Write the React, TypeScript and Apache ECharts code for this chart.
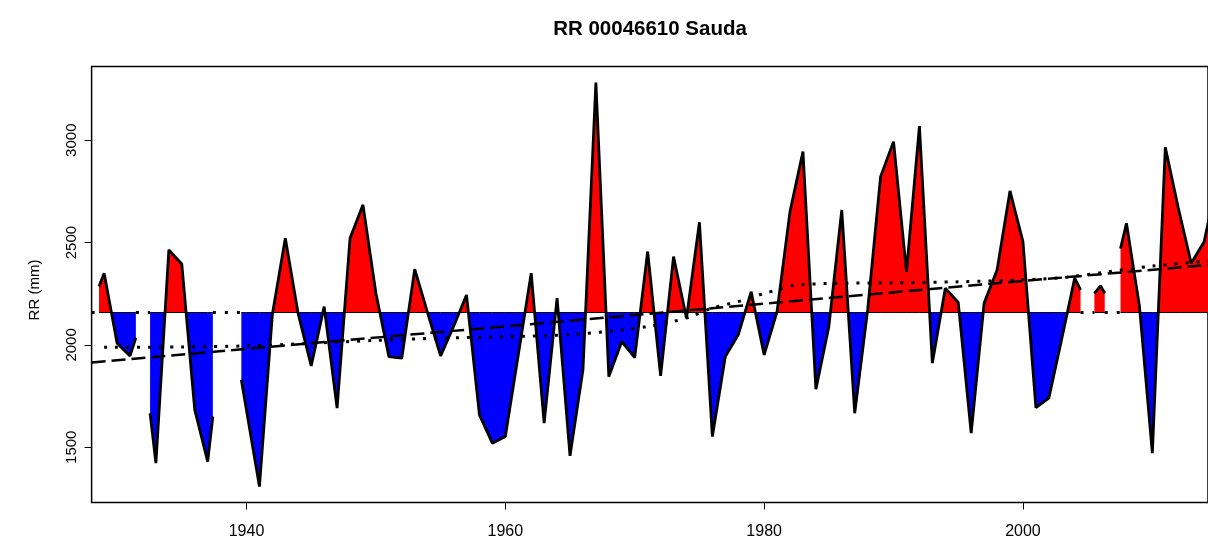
import React, { useEffect, useRef } from "react";
import * as echarts from "echarts";

const TITLE = "RR 00046610 Sauda";
const Y_NAME = "RR (mm)";
const BASE = 2158;
const FONT = "'Liberation Sans', Arial, sans-serif";

// annual precipitation; fractional years are the edges of the drawn segments next to missing years
const years = [
  1928.6, 1929, 1930, 1931, 1931.45, 1932, 1932.55, 1933, 1934, 1935, 1936, 1937, 1937.4, 1938,
  1939.6, 1940, 1941, 1942, 1943, 1944, 1945, 1946, 1947, 1948, 1949, 1950,
  1951, 1952, 1953, 1954, 1955, 1956, 1957, 1958, 1959, 1960,
  1961, 1962, 1963, 1964, 1965, 1966, 1967, 1968, 1969, 1970,
  1971, 1972, 1973, 1974, 1975, 1976, 1977, 1978, 1979, 1980,
  1981, 1982, 1983, 1984, 1985, 1986, 1987, 1988, 1989, 1990,
  1991, 1992, 1993, 1994, 1995, 1996, 1997, 1998, 1999, 2000,
  2001, 2002, 2003, 2004, 2004.45, 2005, 2005.52, 2006, 2006.32, 2007, 2007.54, 2008, 2009, 2010,
  2011, 2012, 2013, 2014, 2015,
];
const values: (number | null)[] = [
  2285, 2350, 2008, 1946, 2035, null, 1666, 1422, 2464, 2395, 1683, 1430, 1650, null,
  1829, 1680, 1308, 2150, 2521, 2150, 1897, 2187, 1691, 2521, 2684, 2252,
  1943, 1935, 2370, 2155, 1946, 2090, 2244, 1658, 1520, 1552,
  1950, 2350, 1618, 2228, 1458, 1878, 3281, 1845, 2016, 1938,
  2456, 1849, 2431, 2130, 2599, 1552, 1943, 2049, 2260, 1951,
  2163, 2651, 2944, 1784, 2089, 2659, 1666, 2171, 2822, 2993,
  2358, 3069, 1911, 2277, 2207, 1569, 2204, 2366, 2752, 2504,
  1694, 1740, 2030, 2326, 2269, null, 2252, 2288, 2252, null, 2470, 2594, 2190, 1471,
  2965, 2670, 2399, 2504, 2800,
];

// linear trend (dashed)
const trendYears = [1928.03, 2014.3];
const trendValues = [1914, 2391];

// smoothed trend (dotted)
const smoothYears = [1929, 1935, 1940, 1945, 1950, 1955, 1960, 1965, 1969, 1971, 1973, 1974.3, 1976, 1978.5, 1980, 1981, 1982.2, 1985, 1990, 1995, 2000, 2003, 2006, 2010, 2014.3];
const smoothValues = [1988, 1990, 1995, 2008, 2022, 2033, 2040, 2050, 2073, 2090, 2115, 2138, 2180, 2220, 2252, 2268, 2290, 2300, 2303, 2308, 2318, 2328, 2352, 2385, 2410];

const X_MIN = 1928.03;
const X_MAX = 2014.3;
const Y_MIN = 1230;
const Y_MAX = 3360;
const xTicks = [1940, 1960, 1980, 2000];
const yTicks = [1500, 2000, 2500, 3000];

export default function App() {
  const ref = useRef<HTMLDivElement>(null);
  useEffect(() => {
    if (!ref.current) return;
    const chart = echarts.init(ref.current, null, { renderer: "svg" });
    const mainData = years.map((x, i) => [x, values[i]]);
    const baseData = years.map((x, i) => [x, values[i] == null ? null : BASE]);
    const trendData = trendYears.map((x, i) => [x, trendValues[i]]);
    const smoothData = smoothYears.map((x, i) => [x, smoothValues[i]]);
    // mean line: visible only where there is no data
    const meanData: (number | null)[][] = [[X_MIN, BASE], [years[0], BASE], [years[0], null]];
    values.forEach((v, i) => {
      if (v == null && i > 0 && i < years.length - 1) {
        meanData.push([years[i - 1], BASE], [years[i + 1], BASE], [years[i + 1], null]);
      }
    });

    chart.setOption({
      animation: false,
      graphic: [
        {
          type: "text",
          x: 650,
          y: 27,
          style: { text: TITLE, font: `bold 20.5px ${FONT}`, fill: "#000", textAlign: "center", textVerticalAlign: "middle" },
        },
        {
          type: "text",
          x: 33,
          y: 290,
          rotation: Math.PI / 2,
          style: { text: Y_NAME, font: `15px ${FONT}`, fill: "#000", textAlign: "center", textVerticalAlign: "middle" },
        },
      ],
      grid: {
        left: 91.6,
        top: 66.5,
        width: 1117.2,
        height: 436,
        show: true,
        borderColor: "#000",
        borderWidth: 1.5,
        backgroundColor: "transparent",
      },
      xAxis: {
        type: "value",
        min: X_MIN,
        max: X_MAX,
        axisLine: { show: false },
        splitLine: { show: false },
        axisTick: { show: true, length: 7, lineStyle: { color: "#000", width: 1 }, customValues: xTicks },
        axisLabel: { customValues: xTicks, color: "#000", fontSize: 16, fontFamily: FONT, margin: 20, formatter: (v: number) => String(v) },
      },
      yAxis: {
        type: "value",
        min: Y_MIN,
        max: Y_MAX,
        axisLine: { show: false },
        splitLine: { show: false },
        axisTick: { show: true, length: 7, lineStyle: { color: "#000", width: 1 }, customValues: yTicks },
        axisLabel: { customValues: yTicks, rotate: 90, color: "#000", fontSize: 15, fontFamily: FONT, margin: 14, formatter: (v: number) => String(v) },
      },
      visualMap: [
        {
          type: "piecewise",
          show: false,
          seriesIndex: 0,
          dimension: 1,
          pieces: [
            { gte: 0, lt: BASE, color: "#0000FF" },
            { gte: BASE, lte: 6000, color: "#FF0000" },
          ],
        },
      ],
      series: [
        {
          type: "line",
          data: mainData,
          showSymbol: false,
          connectNulls: false,
          lineStyle: { width: 0, opacity: 0 },
          areaStyle: { origin: BASE, opacity: 1 },
          z: 2,
          silent: true,
        },
        {
          type: "line",
          data: baseData,
          showSymbol: false,
          connectNulls: false,
          lineStyle: { color: "#000", width: 1 },
          z: 3,
          silent: true,
        },
        {
          type: "line",
          data: meanData,
          showSymbol: false,
          connectNulls: false,
          lineStyle: { color: "#000", width: 3, type: [3, 9] },
          z: 1,
          silent: true,
        },
        {
          type: "line",
          data: trendData,
          showSymbol: false,
          lineStyle: { color: "#000", width: 2.5, type: [14, 6] },
          z: 4,
          silent: true,
        },
        {
          type: "line",
          data: smoothData,
          showSymbol: false,
          smooth: 0.3,
          lineStyle: { color: "#000", width: 3, type: [3, 8] },
          z: 4,
          silent: true,
        },
        {
          type: "line",
          data: mainData,
          showSymbol: false,
          connectNulls: false,
          lineStyle: { color: "#000", width: 2.8 },
          z: 5,
          silent: true,
        },
      ],
    });
    return () => chart.dispose();
  }, []);
  return <div ref={ref} style={{ position: "fixed", left: 0, top: 0, width: 1208, height: 542 }} />;
}
